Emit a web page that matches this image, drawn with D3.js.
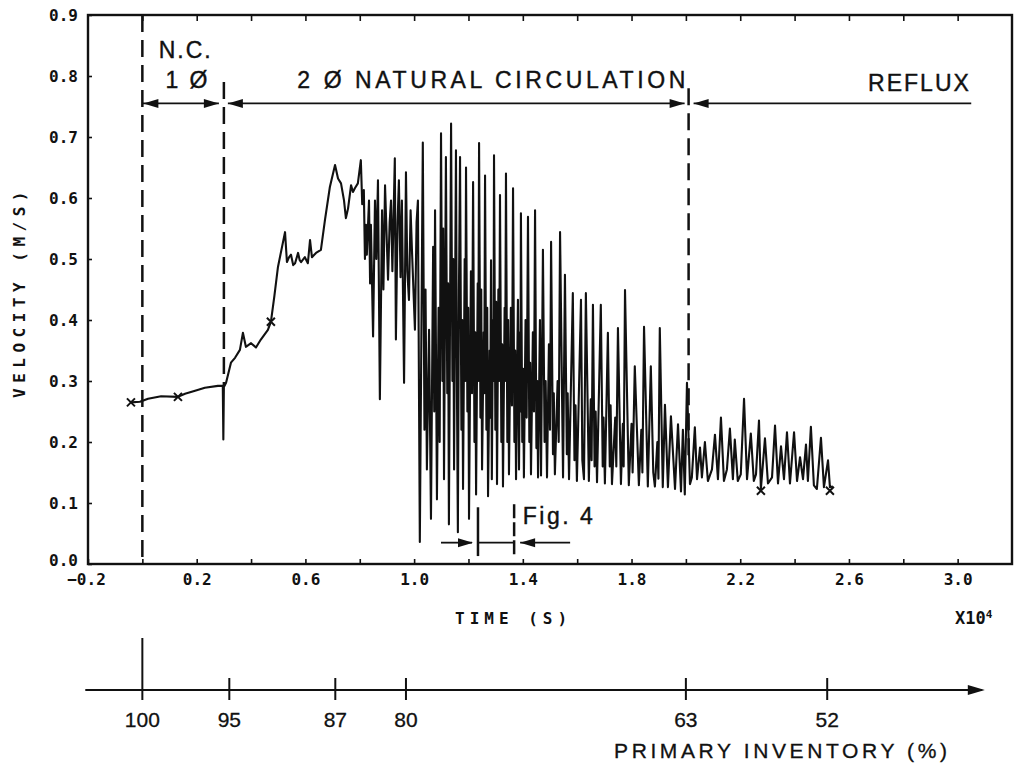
<!DOCTYPE html>
<html><head><meta charset="utf-8">
<script src="https://cdn.jsdelivr.net/npm/d3@7"></script>
<style>body{margin:0;background:#fff}svg{display:block}</style>
</head><body>
<svg id="c" width="1015" height="763"></svg>
<script>
// ---------- DATA (time in s x10^4, velocity in m/s) ----------
const singlePhase = [[-0.042,0.265],[-0.009,0.266],[0.021,0.271],[0.069,0.275],[0.131,0.274],[0.157,0.279],[0.194,0.284],[0.230,0.289],[0.278,0.292],[0.296,0.292],[0.298,0.204],[0.300,0.290]];
const twoPhaseRise = [[0.308,0.297],[0.326,0.330],[0.341,0.338],[0.359,0.351],[0.370,0.379],[0.381,0.356],[0.400,0.362],[0.418,0.355],[0.436,0.368],[0.462,0.384],[0.473,0.397],[0.486,0.440],[0.499,0.487],[0.525,0.544],[0.532,0.495],[0.540,0.503],[0.547,0.507],[0.555,0.490],[0.562,0.493],[0.573,0.510],[0.579,0.498],[0.584,0.495],[0.598,0.503],[0.609,0.493],[0.617,0.531],[0.624,0.503],[0.639,0.510],[0.657,0.515],[0.672,0.564],[0.690,0.618],[0.709,0.654],[0.720,0.632],[0.731,0.624],[0.742,0.596],[0.749,0.567],[0.757,0.583],[0.768,0.621],[0.775,0.610],[0.782,0.616],[0.793,0.624],[0.804,0.662],[0.809,0.590],[0.815,0.613],[0.819,0.500],[0.823,0.556],[0.826,0.507],[0.834,0.596],[0.838,0.460],[0.841,0.556],[0.849,0.373],[0.856,0.596],[0.861,0.500],[0.867,0.629],[0.874,0.270],[0.882,0.580],[0.887,0.450],[0.893,0.621],[0.904,0.466],[0.910,0.560],[0.915,0.596],[0.920,0.480],[0.929,0.665],[0.933,0.368],[0.939,0.560],[0.944,0.629],[0.950,0.470],[0.955,0.596],[0.963,0.297],[0.970,0.642],[0.975,0.480],[0.981,0.433],[0.987,0.580],[0.992,0.515],[1.003,0.384],[1.009,0.560],[1.014,0.596]];
const oscillation = [[1.021,0.036],[1.032,0.691],[1.038,0.22],[1.042,0.45],[1.047,0.155],[1.055,0.384],[1.062,0.074],[1.070,0.52],[1.074,0.25],[1.077,0.580],[1.084,0.106],[1.090,0.42],[1.094,0.2],[1.099,0.706],[1.104,0.3],[1.107,0.55],[1.110,0.139],[1.117,0.667],[1.122,0.28],[1.125,0.46],[1.128,0.065],[1.136,0.722],[1.141,0.3],[1.144,0.5],[1.147,0.155],[1.154,0.678],[1.158,0.26],[1.161,0.052],[1.165,0.45],[1.169,0.667],[1.174,0.22],[1.177,0.4],[1.180,0.123],[1.186,0.5],[1.188,0.3],[1.191,0.650],[1.196,0.25],[1.199,0.42],[1.202,0.074],[1.209,0.48],[1.213,0.28],[1.217,0.626],[1.222,0.2],[1.225,0.38],[1.228,0.114],[1.234,0.46],[1.236,0.3],[1.239,0.690],[1.244,0.24],[1.247,0.45],[1.250,0.155],[1.256,0.38],[1.258,0.28],[1.261,0.637],[1.266,0.22],[1.269,0.42],[1.272,0.111],[1.278,0.35],[1.280,0.24],[1.283,0.498],[1.286,0.139],[1.290,0.4],[1.292,0.3],[1.294,0.670],[1.299,0.22],[1.302,0.43],[1.305,0.131],[1.310,0.45],[1.313,0.3],[1.316,0.605],[1.321,0.2],[1.324,0.36],[1.327,0.127],[1.333,0.42],[1.335,0.3],[1.338,0.640],[1.343,0.2],[1.346,0.4],[1.349,0.147],[1.356,0.42],[1.360,0.26],[1.364,0.616],[1.369,0.2],[1.372,0.35],[1.375,0.139],[1.382,0.433],[1.386,0.155],[1.390,0.38],[1.391,0.25],[1.393,0.575],[1.398,0.2],[1.401,0.32],[1.404,0.142],[1.410,0.4],[1.414,0.24],[1.419,0.569],[1.424,0.2],[1.427,0.33],[1.430,0.147],[1.437,0.38],[1.441,0.25],[1.445,0.580],[1.450,0.19],[1.453,0.3],[1.456,0.142],[1.463,0.400],[1.467,0.145],[1.474,0.515],[1.480,0.2],[1.484,0.3],[1.489,0.142],[1.496,0.36],[1.500,0.22],[1.504,0.528],[1.511,0.18],[1.514,0.28],[1.518,0.147],[1.528,0.3],[1.532,0.2],[1.537,0.544],[1.548,0.142],[1.555,0.474],[1.562,0.18],[1.565,0.28],[1.570,0.139],[1.584,0.444],[1.590,0.17],[1.594,0.26],[1.599,0.136],[1.614,0.433],[1.619,0.17],[1.625,0.139],[1.632,0.444],[1.643,0.136],[1.650,0.27],[1.653,0.17],[1.658,0.425],[1.664,0.16],[1.668,0.25],[1.673,0.134],[1.687,0.425],[1.694,0.16],[1.697,0.24],[1.702,0.132],[1.713,0.379],[1.720,0.16],[1.723,0.26],[1.728,0.131],[1.740,0.24],[1.744,0.16],[1.750,0.387],[1.761,0.131],[1.768,0.23],[1.771,0.16],[1.776,0.449],[1.790,0.129],[1.800,0.23],[1.804,0.15],[1.812,0.324],[1.827,0.129],[1.836,0.22],[1.840,0.15],[1.846,0.389],[1.860,0.127],[1.871,0.324],[1.880,0.15],[1.886,0.127],[1.895,0.2],[1.899,0.14],[1.904,0.387],[1.915,0.126],[1.923,0.261],[1.934,0.126],[1.945,0.242],[1.960,0.123],[1.971,0.229],[1.982,0.119],[1.989,0.220],[1.996,0.114],[2.004,0.297],[2.015,0.131]];
const reflux = [[2.022,0.142],[2.033,0.224],[2.041,0.139],[2.052,0.191],[2.059,0.142],[2.070,0.200],[2.081,0.136],[2.096,0.155],[2.107,0.212],[2.118,0.139],[2.129,0.240],[2.140,0.136],[2.151,0.155],[2.162,0.222],[2.173,0.139],[2.180,0.204],[2.191,0.136],[2.202,0.147],[2.214,0.271],[2.225,0.139],[2.239,0.214],[2.250,0.136],[2.258,0.147],[2.269,0.235],[2.276,0.123],[2.291,0.206],[2.302,0.132],[2.317,0.142],[2.328,0.227],[2.339,0.132],[2.350,0.193],[2.361,0.139],[2.372,0.216],[2.383,0.132],[2.398,0.216],[2.409,0.136],[2.420,0.175],[2.431,0.139],[2.442,0.196],[2.449,0.136],[2.460,0.225],[2.471,0.129],[2.482,0.123],[2.497,0.207],[2.508,0.126],[2.523,0.170],[2.530,0.126],[2.541,0.127]];
const markerTimes = [-0.042, 0.131, 0.473, 2.276, 2.530];
const markerVel   = [0.265, 0.274, 0.397, 0.120, 0.120];
const xMinorTicks = [-0.2,0,0.2,0.4,0.6,0.8,1.0,1.2,1.4,1.6,1.8,2.0,2.2,2.4,2.6,2.8,3.0];
const xLabelTicks = [-0.2,0.2,0.6,1.0,1.4,1.8,2.2,2.6,3.0];
const yTicks = [0,0.1,0.2,0.3,0.4,0.5,0.6,0.7,0.8,0.9];
const phaseTimes = [0.0, 0.30, 2.01];           // phase boundaries
const figWindow = [1.235, 1.368];               // Fig. 4 time window
const invLabels = [100, 95, 87, 80, 63, 52];     // primary inventory (%)
const invTimes  = [0.0, 0.32, 0.71, 0.97, 2.0, 2.52];

// ---------- SETUP ----------
const svg = d3.select("#c");
const x = d3.scaleLinear().domain([-0.2, 3.2]).range([88, 1012]);
const y = d3.scaleLinear().domain([0, 0.9]).range([564, 15]);
const mono = "'DejaVu Sans Mono', monospace";
const sans = "'Liberation Sans', Arial, sans-serif";
const ink = "#111";

// frame
svg.append("rect").attr("x", x(-0.2)).attr("y", y(0.9))
  .attr("width", x(3.2) - x(-0.2)).attr("height", y(0) - y(0.9))
  .attr("fill", "none").attr("stroke", ink).attr("stroke-width", 2.4);

function styleAxis(g){ g.select(".domain").remove(); g.selectAll("line").attr("stroke", ink).attr("stroke-width", 1.6);
  g.selectAll("text").attr("font-family", mono).attr("font-size", 16).attr("font-weight", "bold").attr("fill", ink); }

// bottom minor ticks (inward)
svg.append("g").attr("transform", `translate(0,${y(0)})`)
  .call(d3.axisBottom(x).tickValues(xMinorTicks).tickSize(-5).tickFormat(""))
  .call(styleAxis);
// top ticks (inward)
svg.append("g").attr("transform", `translate(0,${y(0.9)})`)
  .call(d3.axisTop(x).tickValues(xMinorTicks.filter(t => t > -0.2)).tickSize(-6).tickFormat(""))
  .call(styleAxis);
// bottom labels
const xl = svg.append("g").attr("transform", `translate(0,${y(0)})`)
  .call(d3.axisBottom(x).tickValues(xLabelTicks).tickSize(0).tickPadding(10).tickFormat(d3.format(".1f")))
  .call(styleAxis);
xl.selectAll("text").attr("dx", d => d === -0.2 ? -2 : 0);
// left axis
svg.append("g").attr("transform", `translate(${x(-0.2)},0)`)
  .call(d3.axisLeft(y).tickValues(yTicks).tickSize(-4).tickPadding(10).tickFormat(d3.format(".1f")))
  .call(styleAxis)
  .call(g => g.selectAll("text").attr("dy", d => d === 0 ? "0.1em" : "0.35em"));

// axis titles
svg.append("text").attr("transform", "translate(25,292) rotate(-90)")
  .attr("text-anchor", "middle").attr("font-family", mono).attr("font-size", 16).attr("font-weight", "bold")
  .attr("letter-spacing", 5.5).attr("fill", ink).text("VELOCITY  (M/S)");
svg.append("text").attr("x", 455).attr("y", 624).attr("font-family", mono).attr("font-size", 16)
  .attr("font-weight", "bold").attr("letter-spacing", 5).attr("fill", ink).text("TIME  (S)");
const xt = svg.append("text").attr("x", 955).attr("y", 624).attr("font-family", mono).attr("font-size", 17)
  .attr("font-weight", "bold").attr("fill", ink).text("X10");
xt.append("tspan").attr("dy", -6).attr("font-size", 11).text("4");

// ---------- DATA LINE ----------
const line = d3.line().x(d => x(d[0])).y(d => y(d[1]));
const series = singlePhase.concat(twoPhaseRise, oscillation, reflux);
svg.append("path").datum(series).attr("d", line).attr("fill", "none")
  .attr("stroke", ink).attr("stroke-width", 2.1).attr("stroke-linejoin", "round");

// markers
markerTimes.forEach((t, i) => {
  const cx = x(t), cy = y(markerVel[i]), s = 4;
  svg.append("path").attr("d", `M${cx-s},${cy-s}L${cx+s},${cy+s}M${cx-s},${cy+s}L${cx+s},${cy-s}`)
    .attr("stroke", ink).attr("stroke-width", 2);
});

// ---------- PHASE ANNOTATIONS ----------
const dash = "17,8";
function vline(t, v0, v1, da){ svg.append("line").attr("x1", x(t)).attr("x2", x(t)).attr("y1", y(v0)).attr("y2", y(v1))
  .attr("stroke", ink).attr("stroke-width", 2.5).attr("stroke-dasharray", da || null); }
vline(phaseTimes[0], 0.9, 0.0, dash);
vline(phaseTimes[1], 0.79, 0.292, dash);
vline(phaseTimes[2], 0.78, 0.17, dash);

const arrowV = 0.755;
function arrowHead(px, py, dir){ // dir: +1 points right, -1 points left
  const L = 15, w = 4.5;
  svg.append("path").attr("d", `M${px},${py}L${px - dir*L},${py - w}L${px - dir*L},${py + w}Z`).attr("fill", ink);
}
function hline(x1, x2, py){ svg.append("line").attr("x1", x1).attr("x2", x2).attr("y1", py).attr("y2", py)
  .attr("stroke", ink).attr("stroke-width", 1.8); }
const ay = y(arrowV);
hline(x(phaseTimes[0]), x(phaseTimes[1]) - 5, ay);
arrowHead(x(phaseTimes[0]) + 1, ay, -1); arrowHead(x(phaseTimes[1]) - 5, ay, 1);
hline(x(phaseTimes[1]) + 4, x(phaseTimes[2]) - 4, ay);
arrowHead(x(phaseTimes[1]) + 4, ay, -1); arrowHead(x(phaseTimes[2]) - 4, ay, 1);
hline(x(phaseTimes[2]) + 5, x(3.05), ay);
arrowHead(x(phaseTimes[2]) + 5, ay, -1);

function label(txt, t, v, len, size){ svg.append("text").attr("x", x(t)).attr("y", y(v)).attr("font-family", sans)
  .attr("font-size", size || 23).attr("fill", ink).attr("stroke", ink).attr("stroke-width", 0.4)
  .attr("textLength", len).attr("lengthAdjust", "spacing").text(txt); }
label("N.C.", 0.06, 0.830, 52);
label("1 Ø", 0.085, 0.780, 42);
label("2 Ø NATURAL CIRCULATION", 0.57, 0.780, 388);
label("REFLUX", 2.67, 0.775, 101);

// ---------- FIG. 4 WINDOW ----------
vline(figWindow[0], 0.093, 0.013);
vline(figWindow[1], 0.098, 0.010, "14,4");
const fy = y(0.035);
hline(x(figWindow[0]) - 37, x(figWindow[0]) - 6, fy); arrowHead(x(figWindow[0]) - 5, fy, 1);
hline(x(figWindow[0]), x(figWindow[1]), fy);
hline(x(figWindow[1]) + 6, x(figWindow[1]) + 56, fy); arrowHead(x(figWindow[1]) + 6, fy, -1);
label("Fig. 4", 1.40, 0.066, 70, 23);

// ---------- PRIMARY INVENTORY AXIS ----------
const iy = 690;
svg.append("line").attr("x1", x(-0.21)).attr("x2", x(3.09)).attr("y1", iy).attr("y2", iy)
  .attr("stroke", ink).attr("stroke-width", 2.2);
svg.append("path").attr("d", `M${x(3.1)},${iy}L${x(3.1)-17},${iy-5}L${x(3.1)-17},${iy+5}Z`).attr("fill", ink);
invTimes.forEach((t, i) => {
  svg.append("line").attr("x1", x(t)).attr("x2", x(t)).attr("y1", i === 0 ? 638 : 678).attr("y2", 700)
    .attr("stroke", ink).attr("stroke-width", 2);
  svg.append("text").attr("x", x(t)).attr("y", 727).attr("text-anchor", "middle").attr("font-family", sans)
    .attr("font-size", 21).attr("fill", ink).attr("stroke", ink).attr("stroke-width", 0.3).text(invLabels[i]);
});
svg.append("text").attr("x", 614).attr("y", 758).attr("font-family", sans).attr("font-size", 21)
  .attr("fill", ink).attr("stroke", ink).attr("stroke-width", 0.3)
  .attr("textLength", 333).attr("lengthAdjust", "spacing").text("PRIMARY INVENTORY (%)");
</script>
</body></html>
